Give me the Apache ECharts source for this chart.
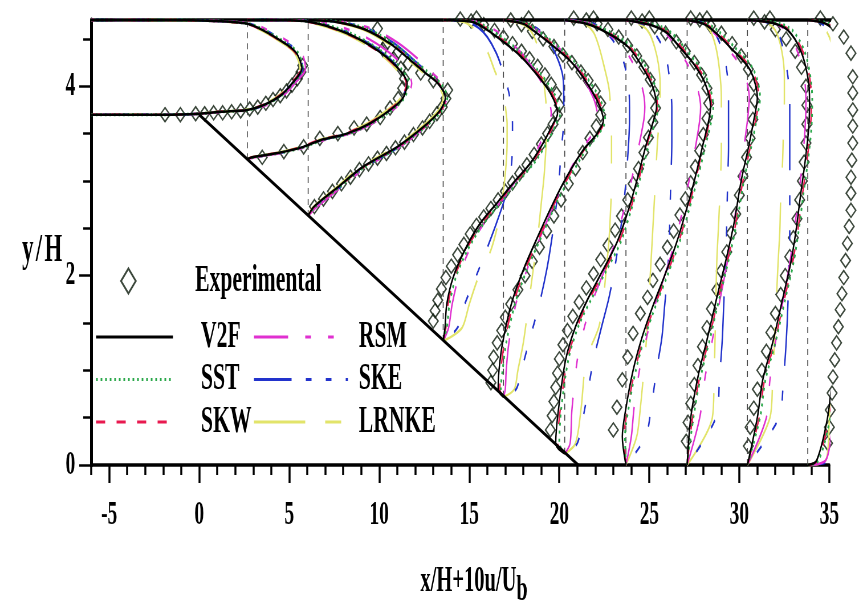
<!DOCTYPE html>
<html>
<head>
<meta charset="utf-8">
<script src="https://cdn.jsdelivr.net/npm/echarts@6/dist/echarts.min.js"></script>
<style>
html, body { margin: 0; padding: 0; background: #fff; overflow: hidden; }
/* the original figure is squeezed sideways, so draw wide and scale x down */
#chart { width: 1510px; height: 606px; transform: scaleX(0.57); transform-origin: 0 0; }
</style>
</head>
<body>
<div id="chart"></div>
<script>
// station positions x/H and wall height there
const stations = [-6, 2.67, 6.05, 13.55, 16.9, 20.3, 23.7, 27.1, 30.45, 33.8];
const stationBase = [3.70, 3.23, 2.63, 1.31, 0.72, 0.12, 0, 0, 0, 0];

// y/H levels of each profile
const profileY = [
  [3.70, 3.70, 3.71, 3.73, 3.75, 3.80, 3.90, 4.04, 4.19, 4.35, 4.46, 4.59, 4.66, 4.69, 4.70, 4.70],
  [3.23, 3.25, 3.30, 3.36, 3.43, 3.50, 3.61, 3.75, 3.88, 4.03, 4.20, 4.38, 4.56, 4.68, 4.70, 4.70],
  [2.63, 2.72, 2.93, 3.15, 3.36, 3.57, 3.75, 3.88, 4.02, 4.15, 4.28, 4.45, 4.60, 4.68, 4.70],
  [1.31, 1.45, 1.70, 1.98, 2.27, 2.55, 2.77, 2.98, 3.19, 3.40, 3.61, 3.71, 3.93, 4.17, 4.35, 4.52, 4.62, 4.68, 4.70],
  [0.72, 0.80, 1.00, 1.29, 1.71, 2.06, 2.41, 2.77, 3.04, 3.32, 3.50, 3.64, 3.85, 4.10, 4.27, 4.45, 4.59, 4.66, 4.70],
  [0.12, 0.23, 0.58, 1.11, 1.46, 1.76, 2.05, 2.35, 2.70, 3.00, 3.40, 3.65, 3.78, 3.99, 4.24, 4.42, 4.57, 4.66, 4.70],
  [0, 0.30, 0.60, 1.00, 1.35, 1.68, 2.00, 2.34, 2.69, 3.04, 3.40, 3.64, 3.78, 4.03, 4.24, 4.41, 4.56, 4.64, 4.70],
  [0, 0.50, 0.93, 1.32, 1.77, 2.16, 2.55, 3.00, 3.35, 3.64, 3.88, 4.17, 4.41, 4.58, 4.66, 4.70],
  [0, 0.50, 0.90, 1.29, 1.71, 2.13, 2.48, 2.85, 3.20, 3.55, 3.85, 4.10, 4.38, 4.59, 4.67, 4.70],
  [0, 0.05, 0.50, 0.97, 1.42, 1.85, 2.30, 2.87, 3.40, 3.93, 4.27, 4.52, 4.66, 4.70]
];

// x/H+10u/Ub of each model at those levels
const v2fX = [
  [-6, -2.0, 0.0, 1.2, 2.67, 3.55, 4.5, 5.2, 5.7, 5.4, 4.7, 3.55, 2.67, 0.8, -2.0, -6],
  [2.67, 2.94, 4.5, 5.78, 6.72, 8.2, 9.5, 10.6, 11.33, 11.55, 11.0, 9.9, 8.2, 6.17, 4.0, 2.67],
  [6.05, 6.33, 7.67, 9.1, 11.0, 12.45, 13.4, 13.67, 13.3, 12.5, 11.7, 10.6, 9.2, 7.6, 6.05],
  [13.55, 13.65, 13.75, 14.1, 14.75, 15.6, 16.55, 17.45, 18.4, 19.1, 19.67, 19.9, 19.5, 18.55, 17.67, 16.55, 15.8, 15.2, 13.55],
  [16.9, 16.6, 16.65, 16.85, 17.35, 18.0, 18.8, 19.67, 20.4, 21.3, 22.1, 22.45, 22.1, 21.3, 20.6, 19.5, 18.55, 18.0, 16.9],
  [20.3, 19.8, 19.95, 20.35, 20.9, 21.6, 22.4, 23.2, 23.85, 24.3, 24.85, 25.25, 25.4, 25.2, 24.5, 23.8, 22.6, 21.5, 20.3],
  [23.7, 23.5, 23.7, 24.1, 24.6, 25.2, 25.85, 26.5, 27.05, 27.55, 28.0, 28.3, 28.4, 28.1, 27.45, 26.7, 26.0, 25.2, 23.7],
  [27.1, 27.3, 27.7, 28.2, 28.75, 29.25, 29.7, 30.1, 30.5, 30.8, 31.0, 30.6, 29.5, 28.6, 28.0, 27.1],
  [30.45, 31.0, 31.3, 31.85, 32.35, 32.85, 33.15, 33.4, 33.65, 33.85, 33.9, 33.8, 33.4, 32.7, 31.8, 30.45],
  [33.8, 34.3, 34.9, 35.2, 35.6, 35.95, 36.15, 36.25, 36.3, 36.3, 36.2, 35.6, 34.8, 33.8]
];
const sstX = [
  [-6, -2.0, 0.0, 1.2, 2.7, 3.6, 4.55, 5.25, 5.75, 5.5, 4.8, 3.65, 2.75, 0.9, -2.0, -6],
  [2.67, 3.0, 4.6, 5.85, 6.8, 8.3, 9.6, 10.7, 11.4, 11.65, 11.15, 10.05, 8.4, 6.35, 4.1, 2.67],
  [6.05, 6.4, 7.75, 9.2, 11.1, 12.55, 13.5, 13.78, 13.45, 12.7, 11.9, 10.8, 9.4, 7.8, 6.05],
  [13.55, 13.75, 13.9, 14.25, 14.9, 15.8, 16.75, 17.65, 18.6, 19.3, 19.85, 20.05, 19.7, 18.8, 17.9, 16.8, 16.0, 15.4, 13.55],
  [16.9, 16.75, 16.85, 17.05, 17.55, 18.2, 19.0, 19.85, 20.6, 21.45, 22.2, 22.55, 22.3, 21.5, 20.8, 19.75, 18.8, 18.2, 16.9],
  [20.3, 20.0, 20.1, 20.5, 21.05, 21.8, 22.6, 23.4, 24.0, 24.45, 25.0, 25.35, 25.5, 25.35, 24.7, 24.0, 22.85, 21.7, 20.3],
  [23.7, 23.65, 23.85, 24.25, 24.75, 25.35, 26.0, 26.65, 27.2, 27.7, 28.15, 28.45, 28.55, 28.3, 27.65, 26.95, 26.25, 25.5, 23.7],
  [27.1, 27.45, 27.85, 28.35, 28.9, 29.4, 29.85, 30.25, 30.65, 30.95, 31.15, 30.8, 29.75, 28.85, 28.2, 27.1],
  [30.45, 31.15, 31.45, 32.0, 32.5, 33.0, 33.3, 33.55, 33.8, 34.0, 34.05, 33.95, 33.6, 32.95, 32.1, 30.45],
  [33.8, 34.4, 35.05, 35.35, 35.75, 36.1, 36.3, 36.4, 36.45, 36.45, 36.35, 35.8, 35.0, 33.8]
];
const skwX = [
  [-6, -2.0, 0.0, 1.15, 2.6, 3.5, 4.45, 5.15, 5.65, 5.35, 4.65, 3.5, 2.6, 0.8, -2.0, -6],
  [2.67, 2.9, 4.45, 5.7, 6.65, 8.1, 9.45, 10.55, 11.25, 11.5, 10.95, 9.85, 8.15, 6.1, 4.0, 2.67],
  [6.05, 6.35, 7.7, 9.15, 11.05, 12.5, 13.45, 13.72, 13.35, 12.55, 11.75, 10.65, 9.25, 7.65, 6.05],
  [13.55, 13.7, 13.82, 14.18, 14.82, 15.7, 16.62, 17.52, 18.47, 19.17, 19.72, 19.95, 19.6, 18.65, 17.77, 16.65, 15.9, 15.3, 13.55],
  [16.9, 16.7, 16.75, 16.95, 17.45, 18.1, 18.9, 19.75, 20.5, 21.35, 22.15, 22.5, 22.2, 21.4, 20.7, 19.6, 18.65, 18.1, 16.9],
  [20.3, 19.9, 20.05, 20.45, 21.0, 21.7, 22.5, 23.3, 23.95, 24.4, 24.9, 25.3, 25.45, 25.3, 24.6, 23.9, 22.7, 21.6, 20.3],
  [23.7, 23.6, 23.8, 24.2, 24.7, 25.3, 25.95, 26.6, 27.15, 27.6, 28.05, 28.35, 28.45, 28.2, 27.55, 26.8, 26.1, 25.35, 23.7],
  [27.1, 27.4, 27.8, 28.3, 28.85, 29.35, 29.8, 30.2, 30.6, 30.9, 31.1, 30.7, 29.6, 28.7, 28.1, 27.1],
  [30.45, 31.1, 31.4, 31.95, 32.45, 32.95, 33.25, 33.5, 33.75, 33.95, 34.0, 33.9, 33.5, 32.8, 31.95, 30.45],
  [33.8, 34.35, 35.0, 35.3, 35.7, 36.05, 36.25, 36.35, 36.4, 36.4, 36.3, 35.7, 34.9, 33.8]
];
const rsmX = [
  [-6, -2.0, 0.1, 1.3, 2.8, 3.7, 4.65, 5.35, 5.9, 5.7, 5.05, 3.85, 2.9, 1.0, -2.0, -6],
  [2.67, 3.1, 4.7, 5.95, 6.9, 8.35, 9.65, 10.75, 11.5, 11.8, 11.4, 10.4, 8.8, 6.7, 4.3, 2.67],
  [6.05, 6.5, 7.85, 9.3, 11.15, 12.55, 13.45, 13.75, 13.55, 12.9, 12.2, 11.1, 9.7, 8.0, 6.05],
  [13.55, 13.85, 14.05, 14.4, 15.0, 15.8, 16.7, 17.5, 18.35, 18.95, 19.4, 19.55, 19.3, 18.6, 17.9, 16.95, 16.2, 15.5, 13.55],
  [16.9, 17.0, 17.05, 17.2, 17.6, 18.2, 18.95, 19.75, 20.4, 21.2, 21.85, 22.15, 21.95, 21.3, 20.7, 19.7, 18.8, 18.2, 16.9],
  [20.3, 20.6, 20.7, 21.0, 21.4, 21.9, 22.5, 23.1, 23.6, 24.0, 24.45, 24.7, 24.75, 24.6, 24.1, 23.5, 22.6, 21.7, 20.3],
  [23.7, 24.0, 24.15, 24.45, 24.85, 25.3, 25.85, 26.4, 26.85, 27.25, 27.6, 27.8, 27.85, 27.6, 27.1, 26.5, 25.9, 25.2, 23.7],
  [27.1, 27.8, 28.1, 28.5, 28.95, 29.35, 29.7, 30.0, 30.25, 30.45, 30.55, 30.2, 29.3, 28.5, 27.9, 27.1],
  [30.45, 31.5, 31.7, 32.0, 32.4, 32.8, 33.05, 33.3, 33.5, 33.65, 33.7, 33.6, 33.2, 32.6, 31.8, 30.45],
  [33.8, 34.8, 35.2, 35.4, 35.7, 35.95, 36.1, 36.15, 36.2, 36.15, 36.05, 35.5, 34.8, 33.8]
];
const skeX = [
  [-6, -2.0, 0.0, 1.2, 2.7, 3.6, 4.5, 5.2, 5.75, 5.55, 4.85, 3.7, 2.75, 0.9, -2.0, -6],
  [2.67, 3.05, 4.6, 5.85, 6.8, 8.25, 9.55, 10.6, 11.3, 11.5, 11.05, 10.0, 8.35, 6.3, 4.1, 2.67],
  [6.05, 6.45, 7.8, 9.25, 11.1, 12.5, 13.4, 13.65, 13.35, 12.65, 11.9, 10.85, 9.45, 7.8, 6.05],
  [13.55, 14.35, 14.75, 15.35, 15.95, 16.5, 16.9, 17.2, 17.35, 17.4, 17.4, 17.35, 17.2, 16.85, 16.5, 16.0, 15.5, 14.9, 13.55],
  [16.9, 17.6, 17.9, 18.3, 18.9, 19.3, 19.6, 19.85, 20.0, 20.1, 20.2, 20.25, 20.25, 20.2, 19.95, 19.5, 18.9, 18.2, 16.9],
  [20.3, 21.0, 21.4, 21.9, 22.35, 22.75, 23.05, 23.3, 23.55, 23.7, 23.85, 23.9, 23.9, 23.85, 23.6, 23.2, 22.6, 21.9, 20.3],
  [23.7, 24.8, 25.1, 25.4, 25.7, 25.85, 26.0, 26.1, 26.15, 26.2, 26.25, 26.25, 26.25, 26.15, 26.0, 25.75, 25.3, 24.9, 23.7],
  [27.1, 28.7, 28.9, 29.05, 29.15, 29.25, 29.3, 29.35, 29.4, 29.4, 29.4, 29.3, 29.0, 28.6, 28.2, 27.1],
  [30.45, 32.2, 32.45, 32.6, 32.7, 32.75, 32.8, 32.8, 32.8, 32.8, 32.8, 32.7, 32.45, 32.1, 31.6, 30.45],
  [33.8, 35.0, 35.2, 35.35, 35.45, 35.55, 35.6, 35.6, 35.6, 35.55, 35.4, 35.1, 34.6, 33.8]
];
const lrnkeX = [
  [-6, -2.0, -0.1, 1.1, 2.55, 3.45, 4.4, 5.1, 5.6, 5.3, 4.6, 3.45, 2.55, 0.7, -2.0, -6],
  [2.67, 2.9, 4.4, 5.65, 6.6, 8.05, 9.35, 10.45, 11.2, 11.4, 10.85, 9.75, 8.05, 6.0, 3.9, 2.67],
  [6.05, 6.3, 7.6, 9.0, 10.9, 12.35, 13.3, 13.55, 13.2, 12.4, 11.6, 10.5, 9.1, 7.5, 6.05],
  [13.55, 14.6, 15.0, 15.5, 16.2, 16.6, 16.8, 16.95, 17.05, 17.1, 17.1, 17.05, 16.9, 16.4, 16.05, 15.6, 15.2, 14.7, 13.55],
  [16.9, 17.5, 17.7, 18.0, 18.3, 18.55, 18.8, 19.0, 19.15, 19.25, 19.3, 19.3, 19.25, 19.1, 18.95, 18.75, 18.4, 17.9, 16.9],
  [20.3, 20.9, 21.2, 21.5, 22.2, 22.45, 22.6, 22.75, 22.85, 22.9, 22.9, 22.9, 22.85, 22.75, 22.45, 22.2, 21.9, 21.4, 20.3],
  [23.7, 24.3, 24.5, 24.7, 24.85, 24.95, 25.05, 25.15, 25.25, 25.35, 25.45, 25.55, 25.6, 25.6, 25.5, 25.3, 25.0, 24.6, 23.7],
  [27.1, 28.5, 28.6, 28.65, 28.7, 28.75, 28.85, 28.95, 29.0, 29.0, 29.0, 28.9, 28.7, 28.4, 28.0, 27.1],
  [30.45, 31.7, 31.85, 31.95, 32.05, 32.15, 32.25, 32.3, 32.4, 32.45, 32.5, 32.5, 32.35, 32.0, 31.5, 30.45],
  [33.8, 34.8, 35.0, 35.1, 35.2, 35.3, 35.35, 35.4, 35.4, 35.4, 35.3, 35.0, 34.5, 33.8]
];

// measured points [x/H+10u/Ub, y/H]
const expPts = [
  [[-1.9,3.70],[-1.05,3.70],[-0.2,3.71],[0.3,3.71],[0.8,3.72],[1.3,3.72],[1.8,3.73],[2.3,3.74],[2.8,3.76],[3.25,3.78],[3.7,3.82],[4.1,3.86],[4.5,3.90],[4.85,3.95],[5.15,4.01],[5.45,4.08],[5.65,4.15],[5.75,4.22]],
  [[3.5,3.25],[4.7,3.31],[5.8,3.36],[6.7,3.45],[7.7,3.50],[8.6,3.56],[9.3,3.60],[10.05,3.67],[10.6,3.77],[11.05,3.87],[11.3,3.98],[11.4,4.08],[11.2,4.19],[10.8,4.29],[10.2,4.39]],
  [[6.4,2.73],[6.9,2.81],[7.4,2.89],[7.9,2.97],[8.4,3.04],[8.9,3.12],[9.4,3.18],[9.9,3.24],[10.4,3.29],[10.9,3.35],[11.4,3.41],[11.9,3.49],[12.4,3.56],[12.8,3.63],[13.2,3.71],[13.5,3.78],[13.7,3.87],[13.8,3.96],[13.0,4.06],[12.3,4.14],[11.6,4.24],[11.0,4.35],[10.4,4.45],[9.9,4.61]],
  [[13.0,1.52],[13.1,1.63],[13.25,1.74],[13.45,1.86],[13.7,1.98],[14.0,2.10],[14.35,2.22],[14.7,2.33],[15.05,2.44],[15.4,2.53],[15.8,2.62],[16.2,2.71],[16.6,2.80],[17.0,2.89],[17.4,2.98],[17.8,3.08],[18.2,3.17],[18.6,3.28],[19.0,3.39],[19.35,3.50],[19.65,3.60],[19.9,3.70],[20.0,3.80],[19.85,3.92],[19.55,4.02],[19.2,4.12],[18.8,4.21],[18.35,4.29],[17.9,4.37],[17.4,4.45],[16.9,4.52],[16.4,4.59],[15.8,4.65],[15.1,4.69],[14.5,4.71],[15.4,4.72]],
  [[16.2,0.87],[16.3,1.00],[16.35,1.14],[16.55,1.29],[16.8,1.42],[17.0,1.56],[17.3,1.70],[17.7,1.85],[18.1,2.00],[18.5,2.15],[18.9,2.30],[19.3,2.47],[19.7,2.63],[20.1,2.80],[20.5,2.97],[20.9,3.13],[21.3,3.30],[21.7,3.45],[22.05,3.58],[22.3,3.70],[22.3,3.82],[22.0,3.95],[21.6,4.06],[21.2,4.15],[20.7,4.25],[20.2,4.33],[19.7,4.42],[19.1,4.50],[18.5,4.58],[17.9,4.65],[17.3,4.70],[18.3,4.72]],
  [[19.5,0.37],[19.6,0.52],[19.7,0.67],[19.8,0.82],[19.9,0.97],[20.0,1.12],[20.2,1.27],[20.45,1.42],[20.75,1.57],[21.1,1.72],[21.5,1.87],[21.9,2.02],[22.3,2.17],[22.7,2.32],[23.1,2.48],[23.45,2.63],[23.8,2.80],[24.1,2.97],[24.4,3.13],[24.7,3.30],[24.95,3.46],[25.2,3.62],[25.35,3.77],[25.3,3.93],[25.05,4.07],[24.7,4.20],[24.3,4.32],[23.8,4.43],[23.3,4.52],[22.7,4.60],[22.1,4.66],[21.5,4.70],[20.8,4.72],[21.9,4.72]],
  [[23.0,0.37],[23.2,0.61],[23.5,0.90],[23.8,1.14],[24.1,1.39],[24.5,1.60],[24.9,1.77],[25.2,1.95],[25.6,2.12],[26.0,2.30],[26.35,2.47],[26.7,2.64],[27.0,2.81],[27.3,2.98],[27.55,3.15],[27.8,3.32],[28.0,3.49],[28.2,3.66],[28.3,3.82],[28.2,3.98],[27.9,4.12],[27.5,4.25],[27.0,4.37],[26.5,4.47],[25.9,4.56],[25.3,4.63],[24.6,4.69],[24.0,4.72],[25.0,4.72]],
  [[27.05,0.25],[27.15,0.45],[27.3,0.65],[27.5,0.85],[27.7,1.05],[27.95,1.25],[28.2,1.45],[28.45,1.65],[28.75,1.85],[29.0,2.05],[29.3,2.25],[29.55,2.45],[29.8,2.65],[30.0,2.85],[30.2,3.05],[30.4,3.25],[30.6,3.45],[30.75,3.65],[30.85,3.85],[30.8,4.02],[30.5,4.18],[30.1,4.32],[29.6,4.45],[29.0,4.56],[28.4,4.64],[27.8,4.70],[27.3,4.72],[28.2,4.72]],
  [[30.5,0.20],[30.6,0.40],[30.8,0.60],[31.0,0.80],[31.25,1.00],[31.5,1.20],[31.75,1.40],[32.0,1.60],[32.3,1.80],[32.55,2.00],[32.8,2.20],[33.0,2.40],[33.2,2.60],[33.35,2.80],[33.5,3.00],[33.6,3.20],[33.7,3.40],[33.75,3.60],[33.75,3.80],[33.7,4.00],[33.45,4.20],[33.1,4.37],[32.6,4.50],[32.0,4.60],[31.4,4.68],[30.8,4.72],[31.7,4.72]],
  [[34.9,0.23],[35.0,0.40],[35.05,0.58],[35.15,0.76],[35.2,0.93],[35.3,1.11],[35.4,1.29],[35.5,1.46],[35.6,1.64],[35.7,1.81],[35.8,1.98],[35.9,2.16],[36.0,2.34],[36.1,2.52],[36.2,2.69],[36.2,2.87],[36.2,3.04],[36.25,3.22],[36.3,3.40],[36.3,3.58],[36.3,3.75],[36.3,3.93],[36.3,4.10],[36.2,4.35],[35.8,4.52],[35.2,4.66],[34.5,4.72]]
];

// geometry: ramp and top wall
const rampX = [0, 21.05], rampY = [3.7, 0];
const topWallX = [-6, 36.8], topWallY = [4.7, 4.7];

// ticks
const xMajor = [-5, 0, 5, 10, 15, 20, 25, 30, 35];
const xMinor = [-6, -4, -3, -2, -1, 1, 2, 3, 4, 6, 7, 8, 9, 11, 12, 13, 14, 16, 17, 18, 19, 21, 22, 23, 24, 26, 27, 28, 29, 31, 32, 33, 34];
const yMajor = [0, 2, 4];
const yMinor = [0.5, 1, 1.5, 2.5, 3, 3.5, 4.5];

const FONT = 'Liberation Serif';

const models = [
  {name: 'LRNKE', xs: lrnkeX, color: '#e2e46a', width: 2.5, dash: [90, 35, 28, 35], offset: 0},
  {name: 'SKE', xs: skeX, color: '#2233cc', width: 2.5, dash: [66, 25, 10, 25, 10, 25, 10, 25], offset: 70},
  {name: 'RSM', xs: rsmX, color: '#e030d0', width: 2.5, dash: [60, 30, 10, 30, 10, 30], offset: 0},
  {name: 'SKW', xs: skwX, color: '#e8194f', width: 2.5, dash: [16, 20], offset: 0},
  {name: 'SST', xs: sstX, color: '#2aa84a', width: 3, dash: [3, 5], offset: 0},
  {name: 'V2F', xs: v2fX, color: '#000000', width: 2.5, dash: 'solid', offset: 0}
];

const series = [];

// dashed station lines
stations.forEach(function (x0, i) {
  if (i === 0) return;
  series.push({
    type: 'line', data: [[x0, stationBase[i]], [x0, 4.7]],
    symbol: 'none', silent: true, clip: false,
    lineStyle: {color: '#444', width: 1.6, type: [6, 5]}
  });
});

// top wall
series.push({
  type: 'line', data: topWallX.map((x, k) => [x, topWallY[k]]),
  symbol: 'none', silent: true, clip: false,
  lineStyle: {color: '#000', width: 3.5}
});

models.forEach(function (m) {
  profileY.forEach(function (ys, p) {
    series.push({
      type: 'line', name: m.name,
      data: ys.map((y, k) => [m.xs[p][k], y]),
      symbol: 'none', smooth: 0.3, silent: true, clip: false,
      lineStyle: {color: m.color, width: m.width, type: m.dash, dashOffset: m.offset},
      itemStyle: {color: m.color}
    });
  });
});

// ramp wall
series.push({
  type: 'line', data: rampX.map((x, k) => [x, rampY[k]]),
  symbol: 'none', silent: true, clip: false,
  lineStyle: {color: '#000', width: 3.5}
});

series.push({
  type: 'scatter', name: 'Experimental',
  data: [].concat.apply([], expPts),
  symbol: 'diamond', symbolSize: [17, 14], clip: false, silent: true,
  itemStyle: {color: 'rgba(255,255,255,0)', borderColor: '#0b1a0b', borderWidth: 2}
});

const txt = {fontFamily: FONT, fontWeight: 'bold', color: '#000'};

const chart = echarts.init(document.getElementById('chart'));
chart.setOption({
  animation: false,
  backgroundColor: '#fff',
  grid: {left: 160, right: 55, top: 20, bottom: 141, containLabel: false, outerBoundsMode: 'none'},
  xAxis: [{
    type: 'value', min: -6, max: 35, position: 'bottom',
    axisLine: {onZero: false, lineStyle: {color: '#000', width: 3.5}},
    axisTick: {customValues: xMajor, length: 18, lineStyle: {color: '#000', width: 3.5}},
    axisLabel: Object.assign({customValues: xMajor, margin: 33, fontSize: 34}, txt),
    splitLine: {show: false},
    name: '{m|x/H+10u/U}{s|b}', nameLocation: 'middle', nameGap: 99, nameMoveOverlap: false,
    nameTextStyle: {
      padding: [0, 0, 0, 48],
      rich: {
        m: Object.assign({fontSize: 36, lineHeight: 42, verticalAlign: 'top'}, txt),
        s: Object.assign({fontSize: 35, lineHeight: 42, verticalAlign: 'top', padding: [9, 0, 0, 0]}, txt)
      }
    }
  }, {
    type: 'value', min: -6, max: 35, position: 'bottom',
    axisLine: {show: false, onZero: false},
    axisTick: {customValues: xMinor, length: 10, lineStyle: {color: '#000', width: 3.5}},
    axisLabel: {show: false},
    splitLine: {show: false}
  }],
  yAxis: [{
    type: 'value', min: 0, max: 4.7, position: 'left',
    axisLine: {onZero: false, lineStyle: {color: '#000', width: 5}},
    axisTick: {customValues: yMajor, length: 21, lineStyle: {color: '#000', width: 2.5}},
    axisLabel: Object.assign({customValues: yMajor, margin: 28, fontSize: 34}, txt),
    splitLine: {show: false},
    name: '{a|y}{a|/}{b|H}', nameLocation: 'middle', nameRotate: 0, nameGap: 51, nameMoveOverlap: false,
    nameTextStyle: {
      padding: [16, 0, 0, 0],
      rich: {
        a: Object.assign({fontSize: 40, padding: [0, 4, 0, 0]}, txt),
        b: Object.assign({fontSize: 40}, txt)
      }
    }
  }, {
    type: 'value', min: 0, max: 4.7, position: 'left',
    axisLine: {show: false, onZero: false},
    axisTick: {customValues: yMinor, length: 14, lineStyle: {color: '#000', width: 2.5}},
    axisLabel: {show: false},
    splitLine: {show: false}
  }],
  legend: [{
    data: ['Experimental'], left: 211, top: 262, orient: 'vertical', padding: 0,
    itemWidth: 26, itemHeight: 25, selectedMode: false,
    itemStyle: {borderWidth: 2.5},
    textStyle: Object.assign({fontSize: 38, lineHeight: 38, padding: [0, 0, 0, 99]}, txt)
  }, {
    data: ['V2F', 'SST', 'SKW'], left: 167, top: 318, orient: 'vertical', padding: 0,
    itemGap: 4.5, itemWidth: 135, itemHeight: 14, selectedMode: false,
    itemStyle: {opacity: 0}, lineStyle: {width: 3, dashOffset: 0},
    textStyle: Object.assign({fontSize: 38, lineHeight: 38, padding: [0, 0, 0, 44]}, txt)
  }, {
    data: ['RSM', 'SKE', 'LRNKE'], left: 444, top: 318, orient: 'vertical', padding: 0,
    itemGap: 4.5, itemWidth: 165, itemHeight: 14, selectedMode: false,
    itemStyle: {opacity: 0}, lineStyle: {width: 3, dashOffset: 0},
    textStyle: Object.assign({fontSize: 38, lineHeight: 38, padding: [0, 0, 0, 14]}, txt)
  }],
  series: series
});
</script>
</body>
</html>
